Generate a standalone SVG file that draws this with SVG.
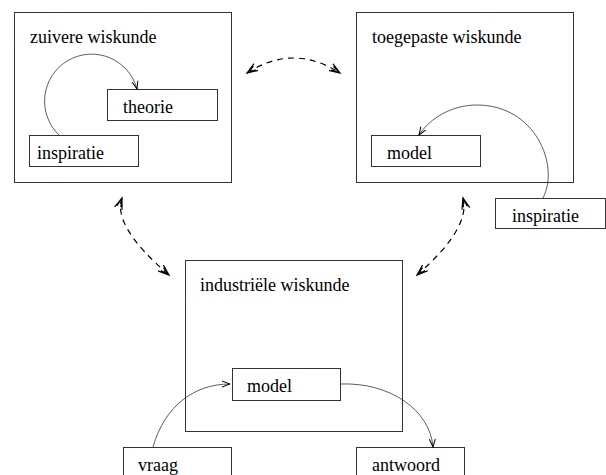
<svg xmlns="http://www.w3.org/2000/svg" width="606" height="475" viewBox="0 0 606 475">
<style>
.box{fill:#fff;stroke:#333;stroke-width:1}
.lbl{font-family:'Liberation Serif','DejaVu Serif',serif;font-size:18px;fill:#000}
.arc{fill:none;stroke:#333;stroke-width:0.8}
.dash{fill:none;stroke:#000;stroke-width:1.2;stroke-dasharray:6 5}
</style>
<defs>
<marker id="ah" markerUnits="userSpaceOnUse" markerWidth="12" markerHeight="10" refX="8" refY="4" orient="auto" viewBox="0 0 12 8">
<path d="M0,1 L8,4 L0,7" fill="none" stroke="#000" stroke-width="1"/>
</marker>
<marker id="dh" markerUnits="userSpaceOnUse" markerWidth="14" markerHeight="12" refX="11" refY="5" orient="auto-start-reverse" viewBox="0 0 14 10">
<path d="M0,1 L11,5 L0,9 M2,3 L11,5 L2,7" fill="none" stroke="#000" stroke-width="1.2"/>
</marker>
</defs>
<g id="zuivere">
<rect class="box" x="14.5" y="12.5" width="217" height="170"/>
<text class="lbl" x="30" y="43" font-family="Liberation Serif, serif">zuivere wiskunde</text>
</g>
<g id="theorie">
<rect class="box" x="107.5" y="89.5" width="110" height="31"/>
<text class="lbl" x="123" y="113">theorie</text>
</g>
<g id="inspiratie1">
<rect class="box" x="29.5" y="135.5" width="109" height="31"/>
<text class="lbl" x="37" y="159">inspiratie</text>
</g>
<g id="toegepaste">
<rect class="box" x="356.5" y="12.5" width="217" height="170"/>
<text class="lbl" x="372" y="43">toegepaste wiskunde</text>
</g>
<g id="model1">
<rect class="box" x="371.5" y="135.5" width="109" height="31"/>
<text class="lbl" x="387" y="159">model</text>
</g>
<g id="inspiratie2">
<rect class="box" x="495.5" y="198.5" width="110" height="30"/>
<text class="lbl" x="512" y="222">inspiratie</text>
</g>
<g id="industriele">
<rect class="box" x="185.5" y="260.5" width="217" height="171"/>
<text class="lbl" x="200" y="291">industriële wiskunde</text>
</g>
<g id="model2">
<rect class="box" x="232.5" y="368.5" width="108" height="32"/>
<text class="lbl" x="247" y="392">model</text>
</g>
<g id="vraag">
<rect class="box" x="123.5" y="447.5" width="108" height="40"/>
<text class="lbl" x="138" y="471">vraag</text>
</g>
<g id="antwoord">
<rect class="box" x="356.5" y="447.5" width="108" height="40"/>
<text class="lbl" x="372" y="471">antwoord</text>
</g>
<g id="connectors">
<path class="arc" d="M59,135 A47,47 0 1 1 137,89" marker-end="url(#ah)"/>
<path class="arc" d="M543,198 C560,165 535,105 477,105 C452,105 430,118 419,135" marker-end="url(#ah)"/>
<path class="arc" d="M153,447 C165,405 195,384 230,384" marker-end="url(#ah)"/>
<path class="arc" d="M340,384 C390,382 430,410 433,447" marker-end="url(#ah)"/>
<path class="dash" d="M247,73 Q293,43 340,73" marker-start="url(#dh)" marker-end="url(#dh)"/>
<path class="dash" d="M122,198 Q112,226 169,275" marker-start="url(#dh)" marker-end="url(#dh)"/>
<path class="dash" d="M463,198 Q471,228 417,275" marker-start="url(#dh)" marker-end="url(#dh)"/>
</g>
</svg>
